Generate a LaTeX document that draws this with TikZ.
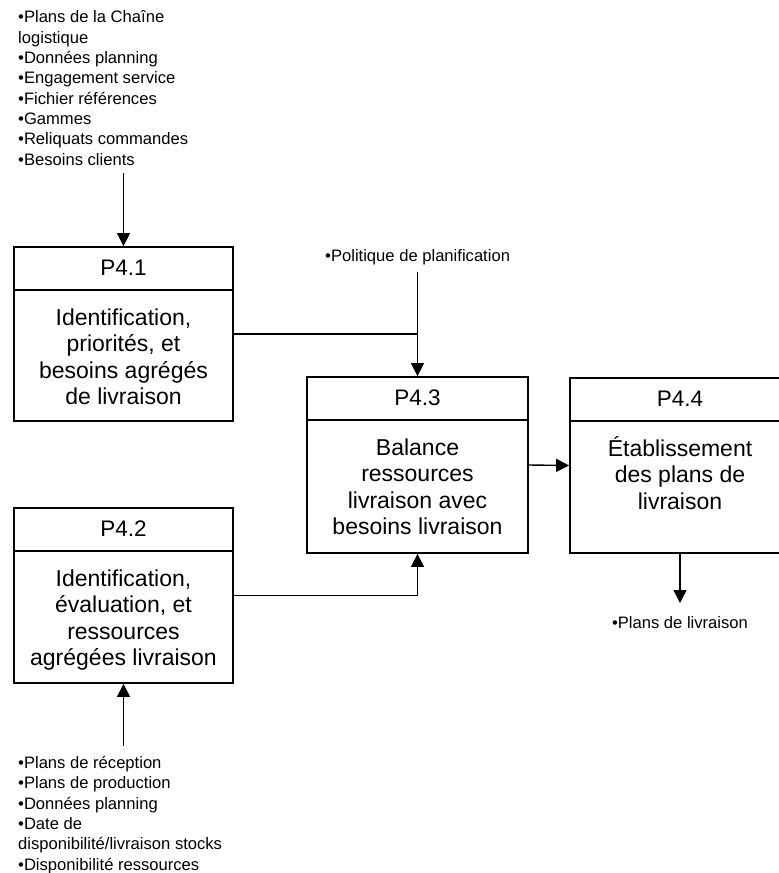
\documentclass[tikz,border=0pt]{standalone}
\usepackage{fontspec}
\setmainfont{Liberation Sans}
\usetikzlibrary{arrows.meta}
\begin{document}
\begin{tikzpicture}[x=1pt,y=-1pt,
  boxline/.style={draw, line width=1.8pt, inner sep=0pt},
  ttl/.style={font=\fontsize{22.5}{26.5}\selectfont, anchor=base, inner sep=0pt},
  body/.style={font=\fontsize{23}{26.5}\selectfont, align=center, anchor=base, inner sep=0pt},
  lst/.style={font=\fontsize{16.6}{20.3}\selectfont, align=left, anchor=base west, inner sep=0pt},
  conn/.style={line width=1.4pt},
  arr/.style={conn, -{Triangle[length=13pt,width=13pt]}}]
\useasboundingbox (0,0) rectangle (779,873);
\clip (0,0) rectangle (779,873);
\fill[white] (0,0) rectangle (779,873);

% boxes
\node[boxline, minimum width=219pt, minimum height=174pt] (P41) at (123.5,334) {};
\node[boxline, minimum width=219pt, minimum height=175pt] (P42) at (123.5,595.5) {};
\node[boxline, minimum width=221pt, minimum height=176pt] (P43) at (417.5,465) {};
\node[boxline, minimum width=220pt, minimum height=175pt] (P44) at (680,465.5) {};

% dividers
\foreach \b in {P41,P42,P43,P44}{
  \draw[line width=1.8pt] ([yshift=-44pt]\b.north west) -- ([yshift=-44pt]\b.north east);
}

% titles
\node[ttl] (P41t) at ([yshift=-29pt]P41.north) {P4.1};
\node[ttl] (P42t) at ([yshift=-29pt]P42.north) {P4.2};
\node[ttl] (P43t) at ([yshift=-29pt]P43.north) {P4.3};
\node[ttl] (P44t) at ([yshift=-29pt]P44.north) {P4.4};

% bodies (base = baseline of last line)
\node[body] (P41b) at ([yshift=-158.5pt]P41.north) {Identification,\\priorités, et\\besoins agrégés\\de livraison};
\node[body] (P42b) at ([yshift=-158.5pt]P42.north) {Identification,\\évaluation, et\\ressources\\agrégées livraison};
\node[body] (P43b) at ([yshift=-158.5pt]P43.north) {Balance\\ressources\\livraison avec\\besoins livraison};
\node[body] (P44b) at ([yshift=-132pt]P44.north) {Établissement\\des plans de\\livraison};

% lists (base = baseline of last line)
\node[lst] (top) at (18,165) {•Plans de la Chaîne\\logistique\\•Données planning\\•Engagement service\\•Fichier références\\•Gammes\\•Reliquats commandes\\•Besoins clients};
\node[lst] (polt) at (325,261) {•Politique de planification};
\node[lst, anchor=base] (outt) at (680,628) {•Plans de livraison};
\node[lst] (bot) at (18,870) {•Plans de réception\\•Plans de production\\•Données planning\\•Date de\\disponibilité/livraison stocks\\•Disponibilité ressources};

% connector ends
\coordinate (in1) at (123.5,173);
\coordinate (pol) at (417.5,272);
\coordinate (out4) at (680,603);
\coordinate (in2) at (123.5,746);

% connectors
\draw[arr] (in1) -- (P41.north);
\draw[arr] (pol) -- (P43.north);
\draw[conn] (P41.east) -- (P41.east -| P43.north);
\draw[arr] (P42.east) -| (P43.south);
\draw[arr] (P43.east) -- (P44.west);
\draw[arr] (P44.south) -- (out4);
\draw[arr] (in2) -- (P42.south);
\end{tikzpicture}
\end{document}
